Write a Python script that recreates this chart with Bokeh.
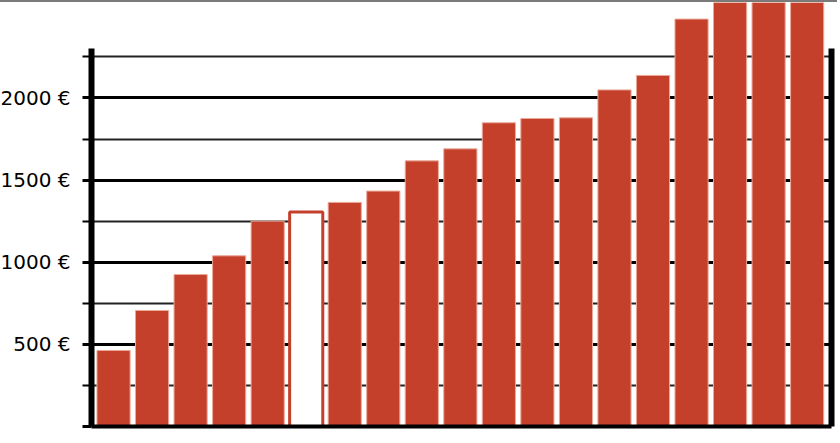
from bokeh.plotting import figure
from bokeh.models import ColumnDataSource, Range1d, LinearAxis, FixedTicker
from bokeh.embed import file_html
from bokeh.resources import INLINE

# ---- data ----
positions = list(range(19))
values = [463, 706, 925, 1039, 1250, 1305, 1364, 1433, 1617, 1690,
          1849, 1875, 1879, 2049, 2137, 2480, 2650, 2700, 2750]
highlight = 5  # outlined bar
major_ticks = [0, 500, 1000, 1500, 2000]
minor_ticks = [250, 750, 1250, 1750, 2250]
tick_labels = {0: "", 500: "500 €", 1000: "1000 €", 1500: "1500 €", 2000: "2000 €"}

RED = "#c5402a"

fill = [("white" if i == highlight else RED) for i in positions]
line_c = [(RED if i == highlight else "#eaa898") for i in positions]
line_w = [(3 if i == highlight else 1) for i in positions]
src = ColumnDataSource(dict(x=positions, top=values, fill=fill, lc=line_c, lw=line_w))

p = figure(width=840, height=443, output_backend="svg", toolbar_location=None,
           x_range=Range1d(-0.572, 18.632), y_range=Range1d(0, 2581),
           min_border_left=93, min_border_right=6, min_border_top=0, min_border_bottom=19,
           x_axis_location=None, y_axis_location=None)
p.outline_line_color = None
p.background_fill_color = "white"
p.border_fill_color = "white"
p.styles = {"border-top": "2px solid #7a7a7a", "margin-left": "-3px"}

ticker = FixedTicker(ticks=major_ticks, minor_ticks=minor_ticks)

# left axis
la = LinearAxis(ticker=ticker, bounds=(0, 2300))
la.axis_line_width = 6
la.axis_line_color = "black"
la.major_tick_out = 9
la.major_tick_in = 0
la.minor_tick_out = 9
la.minor_tick_in = 0
la.major_tick_line_width = 3
la.minor_tick_line_width = 2
la.major_label_overrides = tick_labels
la.major_label_text_font = "DejaVu Sans"
la.major_label_text_font_size = "20px"
la.major_label_text_color = "black"
la.major_label_standoff = 12
p.add_layout(la, "left")

# right axis (line only)
ra = LinearAxis(ticker=FixedTicker(ticks=[], minor_ticks=[]), bounds=(0, 2300))
ra.axis_line_width = 6
ra.major_tick_out = 0
ra.major_tick_in = 0
ra.minor_tick_out = 0
ra.minor_tick_in = 0
ra.major_label_standoff = 0
ra.major_tick_line_color = None
ra.minor_tick_line_color = None
ra.major_label_text_color = None
p.add_layout(ra, "right")

# bottom baseline
ba = LinearAxis(ticker=FixedTicker(ticks=[], minor_ticks=[]))
ba.axis_line_width = 4
ba.major_tick_line_color = None
ba.minor_tick_line_color = None
ba.major_label_text_color = None
p.add_layout(ba, "below")

p.xgrid.visible = False
p.ygrid.ticker = ticker
p.ygrid.bounds = (0, 2300)
p.ygrid.grid_line_color = "black"
p.ygrid.grid_line_width = 3
p.ygrid.minor_grid_line_color = "#222222"
p.ygrid.minor_grid_line_width = 2

p.vbar(x="x", top="top", bottom=0, width=0.86, source=src,
       fill_color="fill", line_color="lc", line_width="lw")

open("out.html", "w").write(file_html(p, INLINE))
